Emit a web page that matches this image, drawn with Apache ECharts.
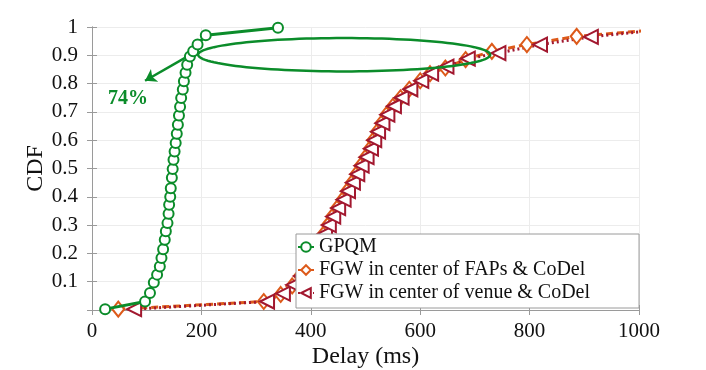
<!DOCTYPE html>
<html>
<head>
<meta charset="utf-8">
<script src="https://cdn.jsdelivr.net/npm/echarts@6/dist/echarts.min.js"></script>
<style>
html, body { margin: 0; padding: 0; background: #fff; }
#container { width: 706px; height: 370px; }
</style>
</head>
<body>
<div id="container"></div>
<script>
var seriesNames = ['GPQM', 'FGW in center of FAPs & CoDel', 'FGW in center of venue & CoDel'];

var gpqmDelay = [24, 97, 106, 113, 119, 124, 127, 130, 133, 135, 138, 140, 141, 143, 144, 146, 147.5, 149, 151, 153, 155, 157, 159, 161, 163, 166, 168, 171, 174, 179, 185, 193, 208, 340];
var gpqmCdf = [0.003, 0.03, 0.06, 0.097, 0.125, 0.154, 0.184, 0.215, 0.248, 0.278, 0.307, 0.34, 0.372, 0.40, 0.43, 0.467, 0.498, 0.531, 0.56, 0.59, 0.623, 0.655, 0.687, 0.718, 0.749, 0.779, 0.808, 0.838, 0.867, 0.896, 0.914, 0.938, 0.971, 0.997];

var fapsDelay = [48, 314, 345, 366, 380, 392, 402, 410, 417, 424, 431, 439, 448, 458, 466, 475, 483, 491, 500, 508, 514, 521, 529, 538, 550, 564, 580, 600, 618, 646, 683, 731, 795, 886, 1060];
var fapsCdf = [0.003, 0.03, 0.055, 0.085, 0.12, 0.15, 0.18, 0.21, 0.24, 0.27, 0.30, 0.33, 0.36, 0.39, 0.42, 0.45, 0.48, 0.51, 0.54, 0.57, 0.60, 0.63, 0.66, 0.69, 0.72, 0.75, 0.78, 0.81, 0.835, 0.855, 0.885, 0.914, 0.938, 0.967, 0.995];

var venueDelay = [77, 320, 349, 368, 382, 394, 404, 412, 419, 426, 433, 441, 450, 460, 468, 477, 485, 493, 502, 510, 516, 523, 531, 540, 552, 566, 582, 602, 620, 648, 687, 743, 819, 912, 1060];
var venueCdf = [0.003, 0.03, 0.058, 0.089, 0.12, 0.15, 0.18, 0.21, 0.24, 0.27, 0.30, 0.33, 0.36, 0.39, 0.42, 0.45, 0.48, 0.51, 0.54, 0.57, 0.60, 0.63, 0.66, 0.69, 0.72, 0.75, 0.78, 0.81, 0.835, 0.86, 0.888, 0.908, 0.938, 0.965, 0.995];

var colors = ['#0b8c2a', '#dd5a1a', '#a2182f'];
var serif = 'Liberation Serif';

function pairs(xs, ys) {
    return xs.map(function (x, i) { return [x, ys[i]]; });
}

var dom = document.getElementById('container');
var myChart = echarts.init(dom, null, { renderer: 'canvas' });

var axisLine = { show: true, lineStyle: { color: '#9a9a9a', width: 1 } };
var gridLine = { show: true, lineStyle: { color: '#ececec', width: 1 } };
var tick = { show: true, inside: true, length: 5, lineStyle: { color: '#9a9a9a' } };

var option = {
    animation: false,
    backgroundColor: '#fff',
    color: colors,
    grid: { left: 92, right: 67, top: 27, bottom: 60, outerBoundsMode: 'none', containLabel: false },
    legend: {
        orient: 'vertical',
        left: 296,
        top: 234,
        padding: [3, 49, 5, 1],
        itemGap: 3,
        itemWidth: 16,
        itemHeight: 12,
        backgroundColor: '#fff',
        borderColor: '#9a9a9a',
        borderWidth: 1,
        borderRadius: 0,
        textStyle: { fontFamily: serif, fontSize: 20, color: '#111' },
        data: seriesNames
    },
    xAxis: [{
        type: 'value',
        min: 0, max: 1000, interval: 200,
        name: 'Delay (ms)',
        nameLocation: 'middle',
        nameGap: 35,
        nameMoveOverlap: false,
        nameTextStyle: { fontFamily: serif, fontSize: 24, color: '#111' },
        axisLine: axisLine,
        axisTick: tick,
        axisLabel: {
            fontFamily: serif, fontSize: 21, color: '#111', margin: 11,
            formatter: function (v) { return String(v); }
        },
        splitLine: gridLine
    }, {
        type: 'value', position: 'top',
        min: 0, max: 1000, interval: 200,
        axisLine: axisLine,
        axisTick: tick,
        axisLabel: { show: false },
        splitLine: { show: false }
    }],
    yAxis: [{
        type: 'value',
        min: 0, max: 1, interval: 0.1,
        name: 'CDF',
        nameLocation: 'middle',
        nameGap: 44,
        nameMoveOverlap: false,
        nameTextStyle: { fontFamily: serif, fontSize: 24, color: '#111' },
        axisLine: axisLine,
        axisTick: tick,
        axisLabel: {
            fontFamily: serif, fontSize: 21, color: '#111', margin: 14,
            formatter: function (v) { return v === 0 ? '' : String(Math.round(v * 10) / 10); }
        },
        splitLine: gridLine
    }, {
        type: 'value', position: 'right',
        min: 0, max: 1, interval: 0.1,
        axisLine: axisLine,
        axisTick: tick,
        axisLabel: { show: false },
        splitLine: { show: false }
    }],
    series: [{
        name: seriesNames[0],
        type: 'line',
        data: pairs(gpqmDelay, gpqmCdf),
        symbol: 'emptyCircle',
        symbolSize: 10,
        lineStyle: { color: colors[0], width: 3 },
        itemStyle: { color: colors[0], borderWidth: 2.5 },
        z: 3,
        markLine: {
            silent: true,
            symbol: ['none', 'arrow'],
            symbolSize: 11,
            label: { show: false },
            lineStyle: { color: colors[0], width: 2.5, type: 'solid' },
            data: [[{ coord: [170, 0.891] }, { coord: [97, 0.81] }]]
        }
    }, {
        name: seriesNames[1],
        type: 'line',
        data: pairs(fapsDelay, fapsCdf),
        symbol: 'emptyDiamond',
        symbolSize: [12, 15],
        lineStyle: { color: colors[1], width: 3, type: [7, 4] },
        itemStyle: { color: colors[1], borderWidth: 2.5 },
        z: 2
    }, {
        name: seriesNames[2],
        type: 'line',
        data: pairs(venueDelay, venueCdf),
        symbol: 'emptyTriangle',
        symbolRotate: 90,
        symbolSize: 14,
        lineStyle: { color: colors[2], width: 3, type: [2, 3] },
        itemStyle: { color: colors[2], borderWidth: 3 },
        z: 2
    }]
};

myChart.setOption(option);

// annotation: ellipse around the upper tail and the "74%" label
var c = myChart.convertToPixel({ gridIndex: 0 }, [461, 0.902]);
var ex = myChart.convertToPixel({ gridIndex: 0 }, [461 + 267, 0.902 - 0.059]);
var rx = ex[0] - c[0], ry = ex[1] - c[1];
var pts = [];
for (var i = 0; i < 120; i++) {
    var t = i / 120 * Math.PI * 2;
    pts.push([c[0] + rx * Math.cos(t), c[1] + ry * Math.sin(t)]);
}
var lab = myChart.convertToPixel({ gridIndex: 0 }, [66, 0.745]);

myChart.setOption({
    graphic: [{
        type: 'polygon',
        shape: { points: pts },
        style: { fill: 'none', stroke: colors[0], lineWidth: 2.5 },
        z: 10
    }, {
        type: 'text',
        x: lab[0], y: lab[1],
        style: {
            text: '74%',
            fill: colors[0],
            font: 'bold 20px "Liberation Serif"',
            align: 'center',
            verticalAlign: 'middle'
        },
        z: 10
    }]
});
</script>
</body>
</html>
